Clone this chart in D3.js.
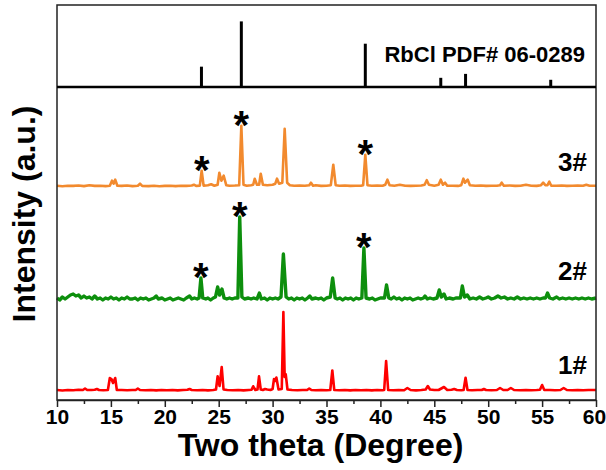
<!DOCTYPE html>
<html>
<head>
<meta charset="utf-8">
<script src="https://cdn.jsdelivr.net/npm/d3@7"></script>
<style>
  html, body { margin: 0; padding: 0; background: #fff; }
  svg { display: block; font-family: "Liberation Sans", Arial, sans-serif; }
</style>
</head>
<body>
<svg id="chart" width="606" height="470"></svg>
<script>
// ---------------- DATA ----------------
const xTicks = [10, 15, 20, 25, 30, 35, 40, 45, 50, 55, 60];
const xMinorTicks = [12.5, 17.5, 22.5, 27.5, 32.5, 37.5, 42.5, 47.5, 52.5, 57.5];

// RbCl reference sticks (PDF# 06-0289)
const refPos = [23.4, 27.1, 38.6, 45.6, 47.9, 55.8];
const refInt = [31, 100, 66, 14, 20, 11];
const refLabel = "RbCl PDF# 06-0289";

const seriesNames = ["1#", "2#", "3#"];
const seriesOffsets = [9, 100, 213.3];

// sample 3# (orange): [2theta, intensity above its baseline]
const s3 = [[10,1],[10.5,0.5],[11,1],[11.5,0.8],[12,1.2],[12.5,0.6],[13,1.5],[13.5,0.8],[14,1],[14.5,0.6],[14.9,1],[15.1,6],[15.25,3],[15.4,7],[15.6,1],[16,0.8],[16.5,1.2],[17,0.6],[17.5,1],[17.7,3],[17.9,0.8],[18.5,0.6],[19,1],[19.5,0.5],[20,0.8],[20.5,1],[21,0.6],[21.5,1],[22,0.8],[22.5,1.2],[22.7,2],[22.9,0.8],[23.25,1],[23.42,16],[23.6,1],[24,1.5],[24.3,2.5],[24.6,1],[24.9,2],[25.06,14],[25.25,6],[25.46,11],[25.7,1.5],[26,1],[26.5,1.2],[26.9,1.5],[27.1,61],[27.3,2],[27.6,1],[28,1.5],[28.2,2],[28.34,8],[28.55,2],[28.75,2],[28.9,13],[29.1,2],[29.5,1.5],[30,2],[30.25,3],[30.41,8],[30.6,3],[30.9,4],[31.12,58],[31.35,4],[31.6,1.5],[32,1],[32.5,1.2],[33,1],[33.4,1.5],[33.56,4],[33.75,1],[34,1.5],[34.5,0.8],[35,1],[35.4,1.5],[35.63,22],[35.85,1.5],[36.2,1],[36.7,1.2],[37.2,0.8],[37.7,1],[38.2,1],[38.4,1.5],[38.6,32],[38.8,1.5],[39.2,1],[39.7,1.2],[40.2,1],[40.45,2],[40.65,7],[40.85,1.5],[41.3,1],[41.8,2],[42.3,1],[42.8,0.8],[43.3,1],[43.8,1.2],[44.1,2],[44.3,6.5],[44.5,2],[45,1],[45.4,2],[45.6,7],[45.8,2],[46,4],[46.2,1],[46.7,1],[47.2,0.8],[47.5,1.5],[47.7,8],[47.85,4],[48.1,7],[48.3,1.5],[48.8,1],[49.3,1.2],[49.8,0.8],[50.3,1],[50.8,1],[51.1,1.5],[51.25,4],[51.45,1],[52,1.2],[52.5,0.8],[53,1],[53.5,2],[54,1],[54.5,0.8],[54.9,1.5],[55.1,4],[55.3,1.5],[55.5,1.5],[55.67,5],[55.85,1],[56.3,1],[56.8,1.2],[57.3,0.8],[57.8,1],[58.3,1.2],[58.8,1],[59.1,2],[59.4,1],[60,1]];

// sample 2# (green)
const s2 = [[10,2],[10.25,0],[10.5,3],[10.75,1],[11,3],[11.25,5],[11.5,6],[11.75,4],[12,5],[12.25,2],[12.5,4],[12.75,2],[13,3],[13.25,1],[13.5,4],[13.75,1],[14,2],[14.25,0],[14.5,2],[14.75,1],[15,3],[15.25,1],[15.5,2],[15.75,0],[16,2],[16.25,1],[16.5,3],[16.75,1],[17,1],[17.25,2],[17.5,0],[17.75,2],[18,1],[18.25,2],[18.5,0],[18.75,1],[19,2],[19.2,4],[19.4,1],[19.75,2],[20,0],[20.25,1],[20.5,2],[20.75,0],[21,1],[21.25,2],[21.5,1],[21.75,0],[22,2],[22.3,4],[22.5,1],[22.75,2],[23,1],[23.18,2],[23.35,22],[23.52,2],[23.8,1],[24,2],[24.25,0],[24.5,2],[24.7,3],[24.9,13],[25.08,5],[25.3,11],[25.5,2],[25.75,1],[26,2],[26.25,1],[26.5,2],[26.78,2],[26.95,83],[27.15,3],[27.4,1],[27.75,2],[28,1],[28.25,2],[28.55,1],[28.77,7],[28.95,1],[29.25,2],[29.5,0],[29.75,2],[30,1],[30.25,2],[30.5,1],[30.78,3],[31.0,46],[31.25,3],[31.5,1],[31.75,2],[32,0],[32.25,2],[32.5,1],[32.75,2],[33,0],[33.25,2],[33.45,4],[33.65,1],[34,2],[34.25,1],[34.5,2],[34.75,0],[35,2],[35.35,3],[35.57,22],[35.8,2],[36,1],[36.25,2],[36.5,0],[36.75,2],[37,1],[37.25,2],[37.5,0],[37.75,2],[38,1],[38.28,2],[38.47,52],[38.67,2],[39,1],[39.25,2],[39.5,0],[39.75,1],[40,2],[40.38,2],[40.57,15],[40.78,2],[41,1],[41.25,3],[41.5,1],[41.75,2],[42,0],[42.25,2],[42.5,1],[42.75,2],[43,0],[43.25,1],[43.5,2],[43.75,1],[44,2],[44.14,4],[44.35,1],[44.6,2],[44.9,1],[45.25,2],[45.46,10],[45.65,3],[45.9,6],[46.1,1],[46.4,2],[46.75,1],[47,2],[47.42,2],[47.6,14],[47.8,3],[48.06,5],[48.3,1],[48.6,2],[48.9,1],[49.2,3],[49.5,1],[49.8,2],[50,3],[50.3,1],[50.6,2],[50.9,4],[51.2,2],[51.5,3],[51.8,1],[52.1,2],[52.4,1],[52.7,3],[53,1],[53.3,2],[53.6,1],[53.9,2],[54.2,1],[54.5,2],[54.8,1],[55.1,2],[55.32,2],[55.5,7],[55.7,2],[56,1],[56.35,3],[56.6,1],[56.9,2],[57.2,1],[57.5,2],[57.8,1],[58.1,2],[58.4,1],[58.7,2],[59,1],[59.3,2],[59.6,1],[60,2]];

// sample 1# (red)
const s1 = [[10,1],[10.5,0.5],[11,1],[11.5,0.8],[12,1.2],[12.4,1],[12.6,2.5],[12.8,1],[13.2,1],[13.5,1.2],[13.7,2],[13.9,1],[14.3,0.8],[14.72,1],[14.9,13],[15.05,12],[15.2,8],[15.4,13],[15.55,1],[16,1],[16.5,0.8],[17,1],[17.3,1],[17.5,2.5],[17.7,1],[18.2,0.8],[18.7,1],[19.2,0.6],[19.7,1],[20.2,0.8],[20.7,1],[21.2,0.6],[21.7,1],[22.1,1.2],[22.3,2],[22.5,1],[23,0.8],[23.5,1],[24,0.6],[24.5,1],[24.75,1.5],[24.9,14.7],[25.08,5],[25.28,24],[25.45,1.5],[25.8,1],[26.3,0.8],[26.8,1],[27.3,0.6],[27.8,1],[28.05,1.2],[28.2,4.7],[28.4,1],[28.6,1.5],[28.74,14.7],[28.9,1.5],[29.1,1],[29.3,2],[29.5,1.5],[29.8,1],[30.0,2],[30.13,12],[30.22,10],[30.35,13.5],[30.55,1.5],[30.85,2],[31.0,79],[31.12,14],[31.22,16.7],[31.38,1.5],[31.8,1],[32.3,0.8],[32.8,1],[33.2,1],[33.4,2.5],[33.6,1],[34,0.8],[34.5,1],[35,0.8],[35.35,1],[35.54,20.5],[35.72,1],[36.2,0.8],[36.7,1],[37.2,0.6],[37.7,1],[38.2,0.8],[38.7,1],[39.2,0.6],[39.7,1],[40.2,0.8],[40.35,1],[40.53,30],[40.72,1],[41.2,0.8],[41.7,1],[42.2,0.8],[42.5,3],[42.8,1],[43.3,0.6],[43.8,1],[44.2,1.5],[44.4,5],[44.6,1.5],[45,1],[45.4,1],[45.9,4],[46.2,1],[46.6,1.2],[46.85,2],[47.1,1],[47.5,0.8],[47.72,1],[47.9,13.3],[48.08,1],[48.5,0.8],[49,1],[49.4,1],[49.6,2],[49.8,1],[50.3,0.8],[50.8,1],[51.1,3],[51.4,1],[51.8,1],[52.1,3],[52.4,1],[53,0.8],[53.5,1],[54,0.8],[54.5,1],[54.8,1.2],[55.0,6],[55.2,1],[55.7,1],[56.2,0.8],[56.7,1],[57.0,3],[57.3,1],[57.8,0.8],[58.3,1],[58.8,0.8],[59.3,1],[60,1]];

// RbCl peaks marked with asterisks: [2theta, peak height above baseline]
const stars3 = [[23.42,16],[27.1,61],[38.6,32]];
const stars2 = [[23.35,22],[26.95,83],[38.47,52]];

// ---------------- LAYOUT ----------------
const colors = ["#ff0000", "#0d8f0d", "#f28a2e"];
const svg = d3.select("#chart");
const L = 57, R = 596, T = 5, B = 400, MID = 87;

const x = d3.scaleLinear().domain([10, 60]).range([L, R]);
const yMain = d3.scaleLinear().domain([0, 313]).range([B, MID]);
const yTop = d3.scaleLinear().domain([0, 125]).range([MID, T]);

const allSeries = [s1, s2, s3];
const widths = [2.6, 3.4, 2.6];

// sample patterns
allSeries.forEach((s, i) => {
  const off = seriesOffsets[i];
  const line = d3.line().x(d => x(d[0])).y(d => yMain(d[1] + off));
  svg.append("path")
    .attr("d", line(s))
    .attr("fill", "none")
    .attr("stroke", colors[i])
    .attr("stroke-width", widths[i])
    .attr("stroke-linejoin", "round");
});

// asterisks
function drawStars(list, off) {
  svg.selectAll(null).data(list).enter().append("text")
    .attr("x", d => x(d[0]))
    .attr("y", d => yMain(d[1] + off) + 13)
    .attr("text-anchor", "middle")
    .attr("font-size", 40)
    .attr("font-weight", "bold")
    .attr("fill", "#000")
    .text("*");
}
drawStars(stars3, seriesOffsets[2]);
drawStars(stars2, seriesOffsets[1]);

// series labels
const labelY = [365, 271, 162];
seriesNames.forEach((n, i) => {
  svg.append("text")
    .attr("x", 587).attr("y", labelY[i])
    .attr("dy", "0.36em")
    .attr("text-anchor", "end")
    .attr("font-size", 26)
    .attr("font-weight", "bold")
    .text(n);
});

// reference sticks
svg.selectAll(null).data(refPos).enter().append("line")
  .attr("x1", d => x(d)).attr("x2", d => x(d))
  .attr("y1", yTop(0)).attr("y2", (d, i) => yTop(refInt[i]))
  .attr("stroke", "#000").attr("stroke-width", 3);

svg.append("text")
  .attr("x", 585).attr("y", 62)
  .attr("text-anchor", "end")
  .attr("font-size", 22)
  .attr("font-weight", "bold")
  .text(refLabel);

// frame
svg.append("rect")
  .attr("x", L).attr("y", T).attr("width", R - L).attr("height", B - T)
  .attr("fill", "none").attr("stroke", "#222").attr("stroke-width", 1.5);
svg.append("line")
  .attr("x1", L).attr("x2", R).attr("y1", MID).attr("y2", MID)
  .attr("stroke", "#000").attr("stroke-width", 2.5);

// bottom axis
const axisMaj = d3.axisBottom(x).tickValues(xTicks).tickSize(7).tickSizeOuter(0).tickPadding(2);
const gx = svg.append("g").attr("transform", `translate(0,${B})`).call(axisMaj);
gx.select(".domain").attr("stroke", "#222").attr("stroke-width", 1.5);
gx.selectAll(".tick line").attr("stroke", "#222").attr("stroke-width", 1.5);
gx.selectAll(".tick text")
  .attr("font-family", "'Liberation Sans', Arial, sans-serif")
  .attr("font-size", 21).attr("font-weight", "bold").attr("fill", "#000")
  .attr("dx", d => d === 60 ? -2 : 0);

const axisMin = d3.axisBottom(x).tickValues(xMinorTicks).tickSize(4).tickFormat("");
const gm = svg.append("g").attr("transform", `translate(0,${B})`).call(axisMin);
gm.select(".domain").remove();
gm.selectAll(".tick line").attr("stroke", "#222").attr("stroke-width", 1.5);

// axis titles
svg.append("text")
  .attr("x", (L + R) / 2 - 6).attr("y", 456)
  .attr("text-anchor", "middle")
  .attr("font-size", 32).attr("font-weight", "bold")
  .text("Two theta (Degree)");

svg.append("text")
  .attr("transform", "translate(35,214) rotate(-90)")
  .attr("text-anchor", "middle")
  .attr("font-size", 32).attr("font-weight", "bold")
  .text("Intensity (a.u.)");
</script>
</body>
</html>
